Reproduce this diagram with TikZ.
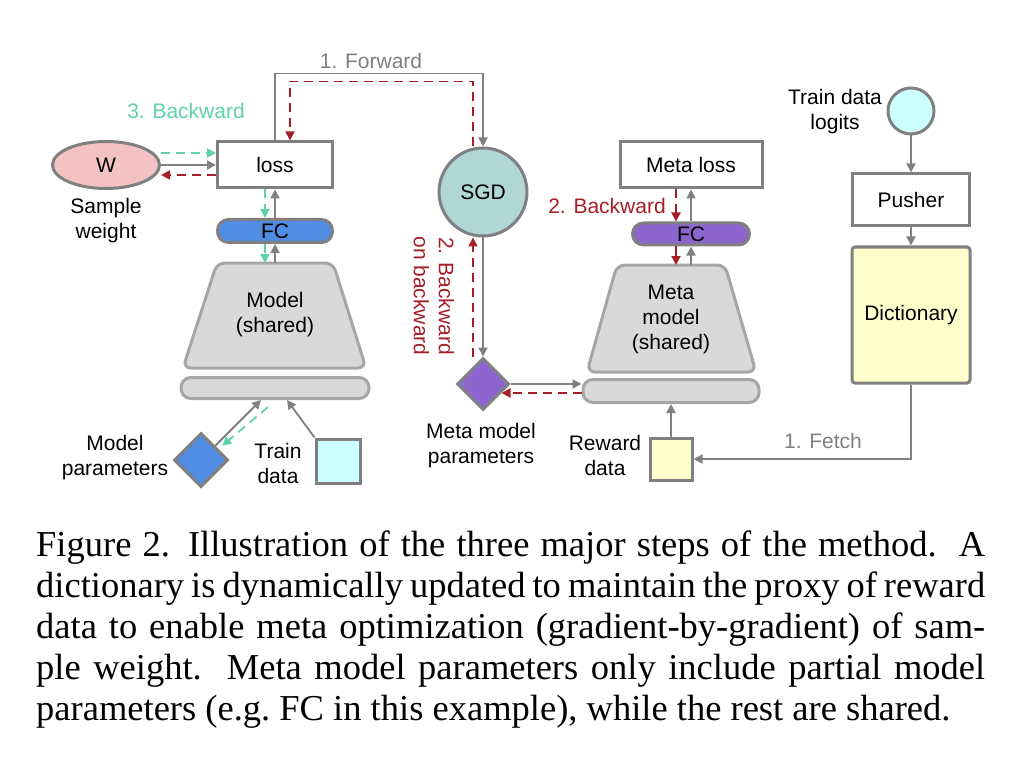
\documentclass[tikz,border=0pt]{standalone}
\usepackage{fontspec}
\setmainfont{Liberation Serif}
\setsansfont{Liberation Sans}
\usetikzlibrary{shapes.geometric,arrows.meta,calc}

\definecolor{boxgray}{RGB}{128,128,128}
\definecolor{arrgray}{RGB}{128,128,128}
\definecolor{bwdred}{RGB}{165,30,40}
\definecolor{bwdteal}{RGB}{95,210,170}
\definecolor{sgdfill}{RGB}{176,214,214}
\definecolor{wfill}{RGB}{244,194,194}
\definecolor{fcblue}{RGB}{80,140,225}
\definecolor{fcpurple}{RGB}{140,102,204}
\definecolor{datacyan}{RGB}{204,255,255}
\definecolor{datayellow}{RGB}{255,255,204}
\definecolor{modelfill}{RGB}{217,217,217}
\definecolor{modelline}{RGB}{166,166,166}

\begin{document}
\begin{tikzpicture}
  [x=1pt, y=-1pt,
   font=\sffamily\fontsize{21}{25}\selectfont,
   box/.style={rectangle, draw=boxgray, line width=3pt, fill=white, inner sep=0pt},
   pill/.style={rectangle, draw=boxgray, line width=3pt, rounded corners=11pt, inner sep=0pt},
   model/.style={draw=modelline, fill=modelfill, line width=3pt, rounded corners=8pt},
   basebar/.style={rectangle, draw=modelline, fill=modelfill, line width=3pt, rounded corners=10pt, inner sep=0pt},
   param/.style={diamond, draw=boxgray, line width=3pt, inner sep=0pt},
   datum/.style={rectangle, draw=boxgray, line width=3pt, inner sep=0pt},
   txt/.style={align=center},
   fwd/.style={draw=arrgray, line width=1.8pt, -{Triangle[length=9pt,width=9pt]}},
   redbwd/.style={draw=bwdred, line width=1.8pt, dash pattern=on 9pt off 6pt, -{Triangle[length=9pt,width=9pt]}},
   tealbwd/.style={draw=bwdteal, line width=1.8pt, dash pattern=on 9pt off 6pt, -{Triangle[length=9pt,width=9pt]}}]

  \fill[white] (0,0) rectangle (1020,770);
  \useasboundingbox (0,0) rectangle (1020,770);

  % Modelo
  \node[box, minimum width=115pt, minimum height=46pt] (loss) at (275,165) {loss};
  \node[ellipse, draw=boxgray, fill=wfill, line width=3pt, minimum width=107pt, minimum height=47pt] (w) at (106,165) {W};
  \node[txt] (wlab) at (106,221) {Sample\\weight};
  \node[pill, fill=fcblue, minimum width=115pt, minimum height=23pt] (fcA) at (275,231) {FC};
  \draw[model] (217,263) -- (333,263) -- (366,368) -- (183,368) -- cycle;
  \node[txt] (modA) at (275,315) {Model\\(shared)};
  \coordinate (modAtop) at (275,263);
  \node[basebar, minimum width=188pt, minimum height=21pt] (barA) at (275,388) {};
  \node[param, fill=fcblue, minimum size=54pt] (parA) at (201,460) {};
  \node[txt] (parAlab) at (115,458) {Model\\parameters};
  \node[datum, fill=datacyan, minimum size=44pt] (trainA) at (338,461) {};
  \node[txt] (trainAlab) at (278,463) {Train\\data};

  % SGD
  \node[circle, draw=boxgray, fill=sgdfill, line width=3pt, minimum size=88pt] (sgd) at (483,192) {SGD};
  \node[param, fill=fcpurple, minimum size=52pt] (parB) at (483,384) {};
  \node[txt] (parBlab) at (481,446) {Meta model\\parameters};

  % Meta modelo
  \node[box, minimum width=142pt, minimum height=46pt] (mloss) at (691,165) {Meta loss};
  \node[pill, fill=fcpurple, minimum width=117pt, minimum height=22pt] (fcB) at (691,234) {FC};
  \draw[model] (617,265) -- (725,265) -- (756,372) -- (587,372) -- cycle;
  \node[txt] (modB) at (671,319) {Meta\\model\\(shared)};
  \coordinate (modBtop) at (671,265);
  \node[basebar, minimum width=176pt, minimum height=23pt] (barB) at (671,391) {};
  \node[datum, fill=datayellow, minimum size=42pt] (rew) at (671,459) {};
  \node[txt] (rewlab) at (605,455) {Reward\\data};

  % Diccionario
  \node[circle, draw=boxgray, fill=datacyan, line width=3pt, minimum size=46pt] (logit) at (911,111) {};
  \node[txt] (logitlab) at (835,112) {Train data\\logits};
  \node[box, minimum width=117pt, minimum height=52pt] (push) at (911,200) {Pusher};
  \node[box, fill=datayellow, minimum width=118pt, minimum height=136pt, rounded corners=3pt] (dict) at (911,315) {Dictionary};

  % Etiquetas de pasos
  \node[text=arrgray] (fwdlab) at (371,61) {1. Forward};
  \node[text=bwdteal] (tealab) at (186,111) {3. Backward};
  \node[text=bwdred] (redlab) at (607,206) {2. Backward};
  \node[txt, text=bwdred, rotate=-90] (boblab) at (434,296) {2. Backward\\on backward};
  \node[text=arrgray] (fetchlab) at (823,441) {1. Fetch};

  % 1. Forward
  \draw[fwd] (loss.north) -- ++(0,-67) -| (sgd.north);
  \draw[fwd] (w.east) -- (loss.west);
  \draw[fwd] (fcA.north) -- (loss.south);
  \draw[fwd] (modAtop) -- (fcA.south);
  \draw[fwd] (parA.north east) -- ([xshift=-14pt]barA.south);
  \draw[fwd] (trainA.north west) -- ([xshift=12pt]barA.south);
  \draw[fwd] (sgd.south) -- (parB.north);
  \draw[fwd] (parB.east) -- (parB.east -| barB.west);
  \draw[fwd] (fcB.north) -- (mloss.south);
  \draw[fwd] (fcB.south |- modBtop) -- (fcB.south);
  \draw[fwd] (rew.north) -- (barB.south);
  \draw[fwd] (dict.south) |- (rew.east);
  \draw[fwd] (logit.south) -- (push.north);
  \draw[fwd] (push.south) -- (dict.north);

  % 2. Backward
  \draw[redbwd] ([xshift=-15pt]mloss.south) -- ([xshift=-15pt]fcB.north);
  \draw[redbwd] ([xshift=-15pt]fcB.south) -- ([xshift=-15pt]fcB.south |- modBtop);
  \draw[redbwd] ([yshift=-2pt]barB.west) -- ($(parB.east)+(-9,9)$);
  \draw[redbwd] ([xshift=-10pt]parB.north) -- ([xshift=-10pt]sgd.south);
  \draw[redbwd] ([xshift=-10pt]sgd.north) -- ++(0,-65) -| ([xshift=15pt]loss.north);
  \draw[redbwd] ([yshift=-10pt]loss.west) -- ($(w.east)+(0,10)$);

  % 3. Backward
  \draw[tealbwd] ($(w.east)+(0,-12)$) -- ([yshift=12pt]loss.west);
  \draw[tealbwd] ([xshift=-10pt]loss.south) -- ([xshift=-10pt]fcA.north);
  \draw[tealbwd] ([xshift=-10pt]fcA.south) -- ([xshift=-10pt]modAtop);
  \draw[tealbwd] ([xshift=-7pt,yshift=-7pt]barA.south) -- ([xshift=7pt]parA.north east);

  % Pie de figura
  \node[anchor=north west, inner sep=0pt, align=left, font=\rmfamily\fontsize{36.5}{41}\selectfont] (cap) at (36,531) {%
    \makebox[949pt][s]{Figure 2. Illustration of the three major steps of the method.\ \ A}\\
    \makebox[949pt][s]{dictionary is dynamically updated to maintain the proxy of reward}\\
    \makebox[949pt][s]{data to enable meta optimization (gradient-by-gradient) of sam-}\\
    \makebox[949pt][s]{ple weight.\ \ Meta model parameters only include partial model}\\
    parameters (e.g.\ FC in this example), while the rest are shared.};
\end{tikzpicture}
\end{document}
